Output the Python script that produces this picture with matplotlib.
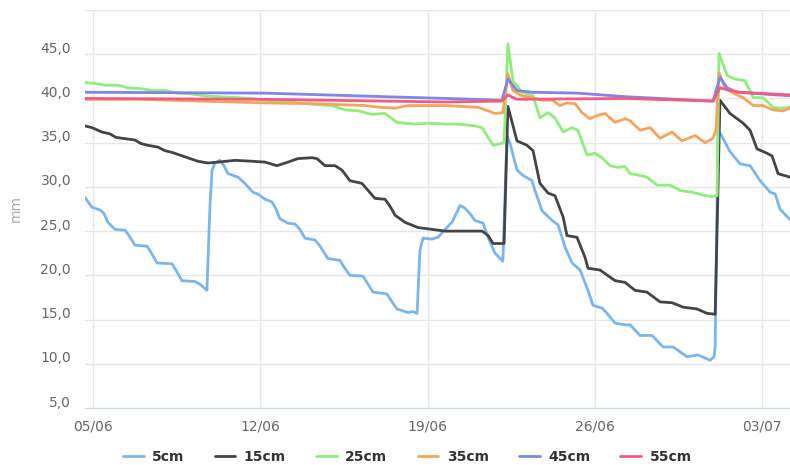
import numpy as np
import matplotlib
matplotlib.use("Agg")
import matplotlib.pyplot as plt
import matplotlib.dates as mdates
import matplotlib.transforms as mtransforms
from datetime import datetime

# dias desde 05/06 y valores (mm)
d_5 = [-0.33, -0.04, 0.29, 0.46, 0.63, 0.92, 1.34, 1.51, 1.76, 2.26, 2.43, 2.68, 3.31, 3.47, 3.72,
       4.27, 4.48, 4.77, 4.90, 4.98, 5.10, 5.31, 5.48, 5.65, 6.07, 6.28, 6.49, 6.69, 6.90, 7.20,
       7.49, 7.66, 7.82, 8.16, 8.45, 8.66, 8.87, 9.29, 9.50, 9.83, 10.33, 10.54, 10.75, 11.30,
       11.51, 11.72, 12.30, 12.51, 12.72, 13.18, 13.39, 13.56, 13.68, 13.81, 14.18, 14.44, 14.73,
       15.02, 15.36, 15.56, 15.77, 15.98, 16.32, 16.53, 16.82, 17.15, 17.32, 17.45, 17.74, 17.99,
       18.37, 18.49, 18.79, 19.21, 19.46, 19.75, 20.04, 20.38, 20.71, 20.92, 21.30, 21.51, 21.84,
       22.26, 22.47, 22.89, 23.39, 23.85, 24.27, 24.85, 25.31, 25.82, 25.98, 26.03, 26.15, 26.65,
       27.07, 27.49, 27.91, 28.33, 28.54, 28.74, 29.16]
v_5 = [28.8, 27.7, 27.4, 27.0, 26.0, 25.2, 25.1, 24.5, 23.4, 23.3, 22.6, 21.4, 21.3, 20.6, 19.4,
       19.3, 19.0, 18.3, 28.0, 31.8, 32.7, 33.0, 32.4, 31.5, 31.1, 30.6, 30.0, 29.4, 29.2, 28.6,
       28.3, 27.5, 26.4, 25.9, 25.8, 25.2, 24.2, 24.0, 23.3, 21.9, 21.7, 20.8, 20.0, 19.9,
       19.0, 18.1, 17.9, 17.0, 16.2, 15.8, 15.9, 15.7, 22.8, 24.2, 24.1, 24.3, 25.2,
       26.0, 27.9, 27.6, 27.0, 26.2, 25.9, 24.3, 22.5, 21.6, 35.8, 34.9, 31.9, 31.3,
       30.7, 29.6, 27.3, 26.2, 25.7, 23.2, 21.4, 20.6, 18.3, 16.6, 16.3, 15.7, 14.6,
       14.4, 14.4, 13.2, 13.2, 11.9, 11.9, 10.8, 11.0, 10.4, 10.8, 12.0, 36.5, 34.0,
       32.6, 32.4, 30.7, 29.4, 29.2, 27.5, 26.3]

d_15 = [-0.33, -0.04, 0.38, 0.71, 0.96, 1.21, 1.76, 2.01, 2.30, 2.72, 3.01, 3.31, 3.85, 4.39, 4.81,
        5.23, 5.94, 6.65, 7.20, 7.70, 8.16, 8.58, 9.16, 9.37, 9.71, 10.13, 10.42, 10.75, 11.25,
        11.51, 11.80, 12.22, 12.43, 12.64, 13.05, 13.60, 14.18, 14.73, 15.56, 16.28, 16.53, 16.74,
        17.20, 17.36, 17.74, 18.16, 18.41, 18.70, 19.04, 19.33, 19.67, 19.83, 20.25, 20.59, 20.71,
        21.21, 21.84, 22.26, 22.68, 23.18, 23.72, 24.23, 24.69, 25.27, 25.69, 26.03, 26.23, 26.65,
        27.20, 27.49, 27.78, 28.20, 28.41, 28.66, 29.16]
v_15 = [36.9, 36.7, 36.2, 36.0, 35.6, 35.5, 35.3, 34.9, 34.7, 34.5, 34.1, 33.9, 33.4, 32.9, 32.7,
        32.8, 33.0, 32.9, 32.8, 32.4, 32.8, 33.2, 33.3, 33.2, 32.4, 32.4, 31.9, 30.7, 30.4,
        29.6, 28.7, 28.6, 27.8, 26.8, 26.0, 25.4, 25.2, 25.0, 25.0, 25.0, 24.5, 23.6,
        23.6, 39.1, 35.2, 34.7, 34.1, 30.4, 29.3, 29.0, 26.6, 24.5, 24.3, 22.0, 20.8,
        20.6, 19.4, 19.2, 18.3, 18.1, 17.0, 16.9, 16.4, 16.2, 15.7, 15.6, 39.8, 38.3,
        37.2, 36.4, 34.3, 33.8, 33.5, 31.5, 31.1]

d_25 = [-0.33, 0.08, 0.50, 1.05, 1.46, 2.05, 2.47, 3.01, 3.56, 4.14, 4.69, 5.23, 5.94, 6.65, 7.20,
        8.24, 9.41, 10.00, 10.54, 11.09, 11.67, 12.22, 12.72, 13.05, 13.47, 14.02, 14.73, 15.27,
        15.98, 16.28, 16.53, 16.74, 17.20, 17.36, 17.57, 17.95, 18.41, 18.70, 19.04, 19.33, 19.67,
        20.04, 20.29, 20.67, 21.00, 21.30, 21.63, 21.97, 22.26, 22.47, 22.89, 23.18, 23.60, 24.14,
        24.56, 25.06, 25.48, 25.90, 26.11, 26.19, 26.53, 26.86, 27.28, 27.62, 28.03, 28.45, 28.74,
        29.16]
v_25 = [41.8, 41.7, 41.5, 41.5, 41.2, 41.1, 40.9, 40.9, 40.6, 40.5, 40.3, 40.2, 40.1, 40.0, 39.8,
        39.6, 39.3, 39.2, 38.7, 38.6, 38.2, 38.3, 37.3, 37.2, 37.1, 37.2, 37.1, 37.1,
        36.9, 36.7, 35.6, 34.7, 35.0, 46.2, 42.0, 40.7, 40.3, 37.8, 38.4, 37.8, 36.2,
        36.7, 36.4, 33.6, 33.8, 33.3, 32.4, 32.2, 32.3, 31.5, 31.3, 31.1, 30.2, 30.2,
        29.6, 29.4, 29.1, 28.9, 29.0, 45.1, 42.6, 42.2, 42.0, 40.1, 40.1, 39.0, 38.9,
        39.0]

d_35 = [-0.33, 1.97, 4.48, 7.20, 9.29, 11.38, 12.01, 12.64, 13.18, 14.73, 16.11, 16.53, 16.82,
        17.15, 17.36, 17.57, 17.95, 18.37, 18.79, 19.21, 19.54, 19.83, 20.17, 20.46, 20.79, 21.13,
        21.42, 21.84, 22.26, 22.47, 22.89, 23.31, 23.72, 24.23, 24.64, 25.19, 25.61, 25.94, 26.07,
        26.19, 26.44, 26.78, 27.20, 27.62, 28.03, 28.45, 28.87, 29.16]
v_35 = [39.9, 39.9, 39.7, 39.5, 39.4, 39.2, 39.0, 38.9, 39.2, 39.2, 39.0, 38.6, 38.3,
        38.4, 42.8, 40.9, 40.3, 40.1, 39.8, 39.8, 39.2, 39.5, 39.4, 38.4, 37.7, 38.1,
        38.3, 37.3, 37.7, 37.5, 36.4, 36.7, 35.5, 36.2, 35.2, 35.8, 35.0, 35.5, 36.5,
        42.9, 41.2, 40.6, 40.1, 39.2, 39.2, 38.7, 38.6, 38.9]

d_45 = [-0.33, 7.20, 14.73, 17.11, 17.36, 17.74, 18.37, 20.29, 22.26, 25.94, 26.23, 26.53, 26.95, 29.16]
v_45 = [40.7, 40.6, 40.0, 39.8, 42.2, 40.9, 40.7, 40.6, 40.2, 39.7, 42.4, 41.2, 40.7, 40.3]

d_55 = [-0.33, 7.20, 14.73, 17.11, 17.36, 17.74, 22.26, 25.94, 26.23, 26.65, 27.07, 29.16]
v_55 = [40.0, 39.9, 39.6, 39.7, 40.4, 39.9, 40.0, 39.7, 41.2, 40.9, 40.7, 40.4]

series = [
    ("5cm", d_5, v_5, "#7cb5ec"),
    ("15cm", d_15, v_15, "#434348"),
    ("25cm", d_25, v_25, "#90ed7d"),
    ("35cm", d_35, v_35, "#f7a35c"),
    ("45cm", d_45, v_45, "#8085e9"),
    ("55cm", d_55, v_55, "#f15c80"),
]

inicio = mdates.date2num(datetime(2017, 6, 5))
x_ticks = [datetime(2017, 6, 5), datetime(2017, 6, 12), datetime(2017, 6, 19),
           datetime(2017, 6, 26), datetime(2017, 7, 3)]
y_ticks = [5, 10, 15, 20, 25, 30, 35, 40, 45, 50]

fig = plt.figure(figsize=(7.9, 4.65), dpi=100)
ax = fig.add_axes([85 / 790, 1 - 408 / 465, 705 / 790, 398 / 465])

for nombre, d, v, color in series:
    ax.plot(inicio + np.array(d), v, color=color, lw=2, label=nombre,
            solid_joinstyle="round", solid_capstyle="round")

ax.set_xlim(inicio - 0.33, inicio + 29.16)
ax.set_ylim(5, 50)
ax.set_xticks(x_ticks)
ax.xaxis.set_major_formatter(mdates.DateFormatter("%d/%m"))
ax.set_yticks(y_ticks)
ax.yaxis.set_major_formatter(plt.FuncFormatter(
    lambda v, _: f"{v:.1f}".replace(".", ",") if v < 50 else ""))

ax.grid(True, color="#e6e6e6", lw=1)
ax.set_axisbelow(True)
for s in ["top", "right", "left"]:
    ax.spines[s].set_visible(False)
ax.spines["bottom"].set_color("#ccd6eb")
ax.tick_params(axis="both", length=0, labelsize=10, labelcolor="#666666")
ax.tick_params(axis="y", pad=10)
ax.tick_params(axis="x", pad=8)

# etiquetas del eje y un poco por encima de la linea
offset = mtransforms.ScaledTranslation(0, 5 / 72, fig.dpi_scale_trans)
for label in ax.get_yticklabels():
    label.set_transform(label.get_transform() + offset)

fig.text(16 / 790, 1 - 208 / 465, "mm", rotation=90, color="#aaaaaa",
         fontsize=10, ha="center", va="center")

fig.legend(loc="center", bbox_to_anchor=(0.5155, 0.017), ncol=6, frameon=False,
           prop={"weight": "bold", "size": 10}, labelcolor="#333333",
           handlelength=1.5, handletextpad=0.6, columnspacing=2.17)

fig.savefig("out.png", dpi=100)
